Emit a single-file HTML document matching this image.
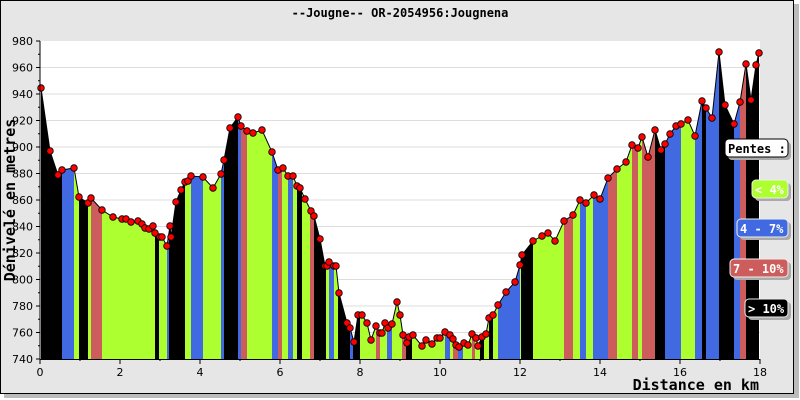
<!DOCTYPE html>
<html><head><meta charset="utf-8"><style>
html,body{margin:0;padding:0;background:#fff;width:800px;height:400px;overflow:hidden}
svg{display:block}
text{font-family:"DejaVu Sans Mono","Liberation Mono",monospace}
</style></head><body>
<svg id="s" width="800" height="400" xmlns="http://www.w3.org/2000/svg">
<defs><clipPath id="cp"><polygon id="cpp" points=""/></clipPath></defs>
<rect x="4" y="4" width="795" height="394" fill="#bbb"/>
<rect x="0.5" y="0.5" width="793" height="393" fill="#e6e6e6" stroke="#000"/>
<rect x="40" y="41" width="720" height="318" fill="#fff"/>
<g id="grid"></g>
<g id="fill" clip-path="url(#cp)"></g>
<g id="line"></g>
<g id="axes"></g>
<text x="400" y="17" text-anchor="middle" font-size="12" font-weight="bold">--Jougne-- OR-2054956:Jougnena</text>
<text x="759" y="390" text-anchor="end" font-size="15" font-weight="bold">Distance en km</text>
<text transform="translate(15,200) rotate(-90)" text-anchor="middle" font-size="15" font-weight="bold">Dénivelé en metres</text>
<g font-size="12" font-weight="bold">
<rect x="728" y="142" width="63" height="18" rx="4" fill="#aaa"/>
<rect x="725" y="139" width="63" height="18" rx="4" fill="#fff" stroke="#000"/>
<text x="728" y="153">Pentes :</text>
<rect x="755" y="183" width="36" height="18" rx="4" fill="#aaa"/>
<rect x="752" y="180" width="36" height="18" rx="4" fill="#adff2f" stroke="#eee"/>
<text x="755" y="194" fill="#fff">&lt; 4%</text>
<rect x="740" y="222" width="51" height="18" rx="4" fill="#aaa"/>
<rect x="737" y="219" width="51" height="18" rx="4" fill="#4169e1" stroke="#eee"/>
<text x="740" y="233" fill="#fff">4 - 7%</text>
<rect x="733" y="262" width="58" height="18" rx="4" fill="#aaa"/>
<rect x="730" y="259" width="58" height="18" rx="4" fill="#cd5c5c" stroke="#eee"/>
<text x="733" y="273" fill="#fff">7 - 10%</text>
<rect x="748" y="302" width="43" height="18" rx="4" fill="#aaa"/>
<rect x="745" y="299" width="43" height="18" rx="4" fill="#000" stroke="#eee"/>
<text x="748" y="313" fill="#fff">&gt; 10%</text>
</g>
</svg>
<script>
var NS="http://www.w3.org/2000/svg";
function el(p,t,a){var e=document.createElementNS(NS,t);for(var k in a)e.setAttribute(k,a[k]);p.appendChild(e);return e;}
var grid=document.getElementById("grid"),axes=document.getElementById("axes");
function Y(m){return 359-(m-740)*318/240;}
for(var m=740;m<=980;m+=10){var y=Y(m);
 if(m%20==0){ if(m>740&&m<980) el(grid,"line",{x1:40,x2:760,y1:y,y2:y,stroke:"#ddd"});
  el(axes,"line",{x1:36,x2:40,y1:y,y2:y,stroke:"#000"});
  var t=el(axes,"text",{x:33,y:y+4,"text-anchor":"end","font-size":11,style:"font-family:'DejaVu Sans',sans-serif"});t.textContent=m;}
 else el(axes,"line",{x1:38,x2:40,y1:y,y2:y,stroke:"#000"});}
el(axes,"line",{x1:40,x2:40,y1:41,y2:359,stroke:"#000"});
el(axes,"line",{x1:40,x2:760,y1:359.5,y2:359.5,stroke:"#000"});
for(var k=0;k<=18;k+=1){var x=40+k*40;
 el(axes,"line",{x1:x,x2:x,y1:359,y2:k%2?361:364,stroke:"#000"});
 if(k%2==0){var t=el(axes,"text",{x:x,y:376,"text-anchor":"middle","font-size":11,style:"font-family:'DejaVu Sans',sans-serif"});t.textContent=k;}}
var P=[[41,88],[50,151],[58,175],[62,170],[74,168],[79,197],[88,203],[91,198],[102,210],[113,217],[122,219],[126,219],[131,222],[138,221],[142,224],[145,228],[149,229],[153,226],[155,233],[160,237],[162,237],[167,246],[170,226],[171,237],[176,202],[181,190],[185,182],[188,181],[191,176],[203,177],[213,188],[221,174],[224,160],[230,128],[238,117],[241,126],[247,131],[253,133],[262,130],[272,152],[278,170],[283,168],[288,176],[293,176],[297,186],[300,188],[305,199],[311,211],[314,216],[320,239],[325,266],[327,266],[329,262],[334,266],[336,266],[339,293],[347,323],[350,328],[354,342],[358,315],[362,315],[367,323],[371,340],[376,326],[380,333],[382,333],[385,323],[388,328],[392,324],[397,302],[400,315],[403,335],[407,343],[409,337],[413,335],[422,346],[426,340],[432,344],[437,338],[440,338],[445,332],[450,335],[453,339],[456,345],[459,347],[464,343],[468,345],[472,334],[476,338],[478,346],[482,337],[486,334],[489,318],[493,315],[498,305],[506,292],[515,282],[520,265],[522,255],[533,241],[542,236],[548,233],[555,241],[564,221],[573,215],[580,200],[586,203],[594,195],[600,199],[608,178],[617,169],[626,162],[632,145],[638,148],[642,137],[648,157],[655,130],[661,150],[665,144],[670,134],[676,126],[681,124],[688,120],[695,136],[702,101],[706,108],[712,118],[719,52],[725,105],[734,124],[740,102],[746,64],[751,100],[756,65],[759,53]];
var G="#adff2f",B="#4169e1",R="#cd5c5c",K="#000";
var BANDS=[[40,62,K],[62,74,B],[74,79,G],[79,88,K],[88,91,G],[91,102,R],[102,155,G],[155,159,K],[159,167,G],[167,169,B],[169,185,K],[185,191,G],[191,203,B],[203,221,G],[221,224,B],[224,238,K],[238,241,B],[241,247,R],[247,272,G],[272,278,B],[278,282,R],[282,288,G],[288,293,B],[293,297,G],[297,302,K],[302,310,G],[310,314,R],[314,326,K],[326,329,G],[329,334,B],[334,338,G],[338,350,K],[350,353,B],[353,360,K],[360,376,G],[376,380,R],[380,387,G],[387,392,B],[392,402,G],[402,406,R],[406,412,K],[412,445,G],[445,450,B],[450,453,G],[453,458,R],[458,463,B],[463,472,G],[472,475,R],[475,480,G],[480,484,K],[484,489,G],[489,493,K],[493,498,G],[498,520,B],[520,521,G],[521,533,K],[533,564,G],[564,573,R],[573,580,G],[580,586,B],[586,593,G],[593,608,B],[608,617,R],[617,632,G],[632,638,R],[638,642,G],[642,655,R],[655,665,K],[665,681,B],[681,695,G],[695,702,B],[702,706,K],[706,719,B],[719,734,K],[734,740,B],[740,746,R],[746,760,K]];
var f=document.getElementById("fill"),ln=document.getElementById("line");
var pts="";
for(var i=0;i<P.length;i++){pts+=P[i][0]+","+P[i][1]+" ";}
document.getElementById("cpp").setAttribute("points","41,359 "+pts+"759,359");
for(var i=0;i<BANDS.length;i++){var b=BANDS[i];el(f,"rect",{x:b[0],y:41,width:b[1]-b[0]+0.3,height:318,fill:b[2]});}
el(ln,"polyline",{points:pts,fill:"none",stroke:"#000","stroke-width":1});
for(var i=0;i<P.length;i++)el(ln,"circle",{cx:P[i][0],cy:P[i][1],r:3.3,fill:"#f00",stroke:"#000","stroke-width":0.8});
</script>
</body></html>
